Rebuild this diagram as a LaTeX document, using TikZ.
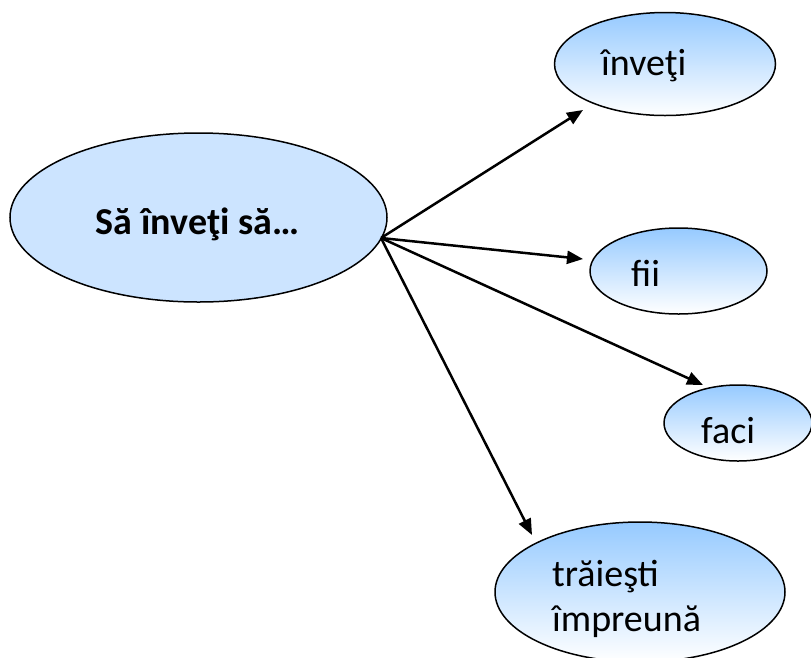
\documentclass[tikz,border=0pt]{standalone}
\usepackage{fontspec}
\setmainfont{Carlito}
\usetikzlibrary{shapes.geometric,arrows.meta}
\definecolor{mainfill}{RGB}{204,228,255}
\definecolor{topblue}{RGB}{150,202,255}
\tikzset{
  bubble/.style={draw=black,line width=1.5pt,ellipse,inner sep=0pt,top color=topblue,bottom color=white},
  mainbubble/.style={draw=black,line width=1.5pt,ellipse,inner sep=0pt,fill=mainfill},
  lbl/.style={font=\fontsize{38}{45}\selectfont,inner sep=0pt},
  conn/.style={line width=2.5pt,-{Triangle[length=16pt,width=13pt]}}
}
\begin{document}
\begin{tikzpicture}[x=1pt,y=-1pt]
\useasboundingbox (0,0) rectangle (811,657);
\node[mainbubble,minimum width=377pt,minimum height=169pt] (main) at (198.5,217.5) {};
\node[lbl,font=\fontsize{38}{45}\selectfont\bfseries] (maintext) at (197.5,224) {Să înveţi să…};
\node[bubble,minimum width=221pt,minimum height=103pt] (b1) at (665,64) {};
\node[lbl,anchor=west] (t1) at (601,66) {înveţi};
\node[bubble,minimum width=177pt,minimum height=86pt] (b2) at (678.5,271) {};
\node[lbl,anchor=west] (t2) at (631,273) {fii};
\node[bubble,minimum width=148pt,minimum height=76pt] (b3) at (738,423) {};
\node[lbl,anchor=west] (t3) at (701,431) {faci};
\node[bubble,minimum width=290pt,minimum height=140pt] (b4) at (640,592) {};
\node[lbl,align=left,anchor=west] (t4) at (552,599) {trăieşti\\împreună};
\coordinate (s) at (381,238);
\coordinate (e1) at (583,110);
\coordinate (e2) at (583,259);
\coordinate (e3) at (703,385);
\coordinate (e4) at (532,535);
\draw[conn] (s) -- (e1);
\draw[conn] (s) -- (e2);
\draw[conn] (s) -- (e3);
\draw[conn] (s) -- (e4);
\end{tikzpicture}
\end{document}
